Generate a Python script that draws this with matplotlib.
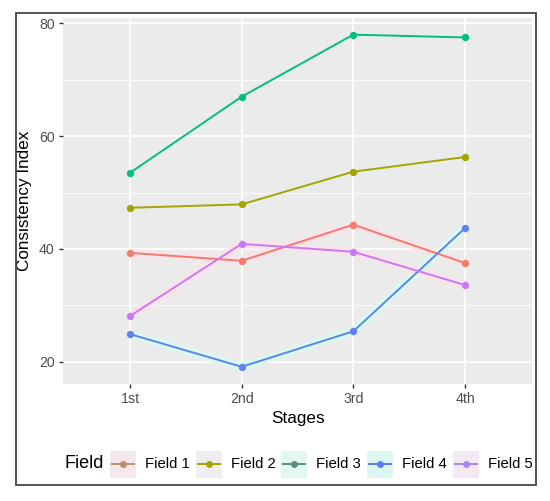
import matplotlib
matplotlib.use('Agg')
import matplotlib.pyplot as plt
from matplotlib.patches import Rectangle
from matplotlib.lines import Line2D

plt.rcParams['font.family'] = ['Liberation Sans', 'DejaVu Sans']

stages = ['1st', '2nd', '3rd', '4th']
field_names = ['Field 1', 'Field 2', 'Field 3', 'Field 4', 'Field 5']
field1 = [39.3, 37.9, 44.3, 37.5]
field2 = [47.3, 47.9, 53.7, 56.3]
field3 = [53.5, 67.0, 78.0, 77.5]
field4 = [24.9, 19.1, 25.4, 43.7]
field5 = [28.1, 40.9, 39.5, 33.6]
series = [field1, field2, field3, field4, field5]

colors = ['#F27A6E', '#A3A500', '#00BF7D', '#6282F0', '#C97AF2']
key_colors = ['#B8906F', '#A3A500', '#5C8F7A', '#5B7CF2', '#A985EE']
key_bg = ['#F5E8EC', '#EEEEEE', '#E2F7F0', '#DDF8F3', '#F2E9F3']
halo = ['#F8E4EA', None, None, '#D8FAF0', '#F8E4EA']

fig = plt.figure(figsize=(5.5, 5.01), dpi=100)
ax = fig.add_axes([63 / 550, 1 - 384 / 501, (532 - 63) / 550, (384 - 18) / 501])
ax.set_facecolor('#EBEBEB')

x = list(range(1, len(stages) + 1))
for vals, c, h in zip(series, colors, halo):
    if h is not None:
        ax.plot(x, vals, color=h, linewidth=6, solid_capstyle='butt', zorder=2)
for vals, c in zip(series, colors):
    ax.plot(x, vals, color=c, linewidth=1.4, zorder=3)
    ax.scatter(x, vals, color=c, s=28, zorder=4, linewidths=0)

ax.set_xlim(0.4, 4.6)
ax.set_ylim(16.05, 80.95)
ax.set_xticks(x)
ax.set_xticklabels(stages)
ax.set_yticks([20, 40, 60, 80])
ax.set_yticks([30, 50, 70], minor=True)
ax.grid(True, which='major', color='white', linewidth=1.2, zorder=0)
ax.grid(True, which='minor', axis='y', color='white', linewidth=0.6, zorder=0)
ax.set_axisbelow(True)
for s in ax.spines.values():
    s.set_visible(False)
ax.tick_params(axis='both', which='major', length=3, width=1, color='#333333',
               labelsize=10.2, labelcolor='#4D4D4D', pad=3)
ax.tick_params(axis='y', which='minor', length=0)

ax.set_xlabel('Stages', fontsize=12.3, color='black', labelpad=3)
ax.set_ylabel('Consistency Index', fontsize=12.3, color='black', labelpad=5)

# outer frame
fig.add_artist(Rectangle((16 / 550, 1 - 485 / 501), 520 / 550, 472 / 501,
                         transform=fig.transFigure, fill=False,
                         edgecolor='#444444', linewidth=1.3))

# legend at the bottom
ly = 1 - 464 / 501
fig.text(64 / 550, ly, 'Field', fontsize=13, va='center', ha='left')
key_x = [123, 209, 294, 380, 466]
for kx, name, kc, bg in zip(key_x, field_names, key_colors, key_bg):
    fig.add_artist(Rectangle(((kx - 13) / 550, ly - 13.5 / 501), 26 / 550, 27 / 501,
                             transform=fig.transFigure, facecolor=bg, edgecolor='none'))
    fig.add_artist(Line2D([(kx - 11) / 550, (kx + 11) / 550], [ly, ly],
                          transform=fig.transFigure, color=kc, linewidth=1.4))
    fig.add_artist(Line2D([kx / 550], [ly], transform=fig.transFigure, color=kc,
                          marker='o', markersize=5, markeredgewidth=0))
    fig.text((kx + 22) / 550, ly, name, fontsize=10.7, va='center', ha='left')

fig.savefig('out.png', dpi=100)
